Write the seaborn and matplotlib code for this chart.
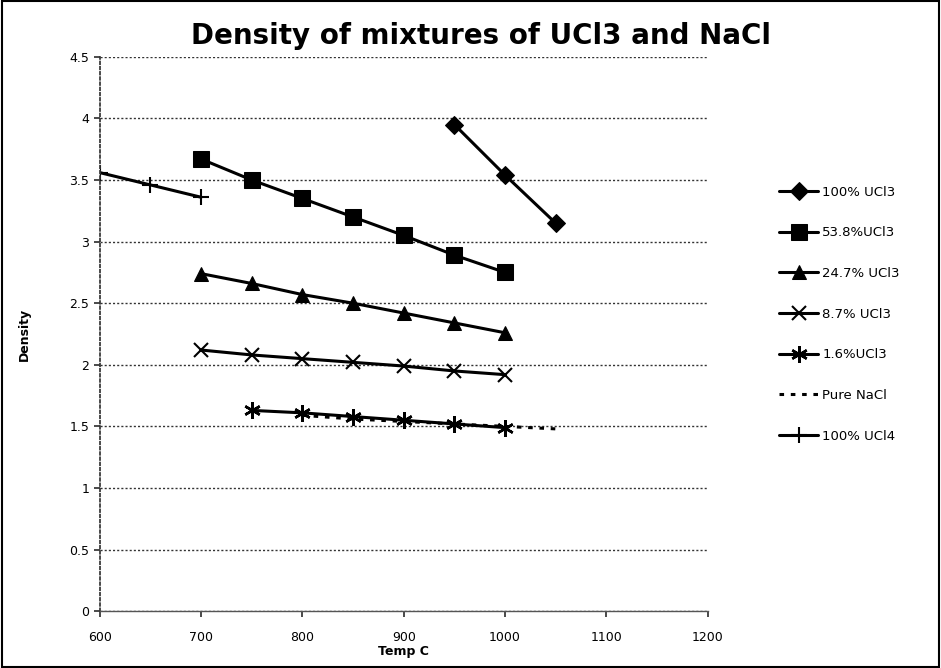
import matplotlib
matplotlib.use("Agg")
import matplotlib.pyplot as plt
import seaborn as sns
from matplotlib.patches import Rectangle

# data
x_ucl3_100 = [950, 1000, 1050]
y_ucl3_100 = [3.95, 3.54, 3.15]

x_ucl3_538 = [700, 750, 800, 850, 900, 950, 1000]
y_ucl3_538 = [3.67, 3.50, 3.35, 3.20, 3.05, 2.89, 2.75]

x_ucl3_247 = [700, 750, 800, 850, 900, 950, 1000]
y_ucl3_247 = [2.74, 2.66, 2.57, 2.50, 2.42, 2.34, 2.26]

x_ucl3_87 = [700, 750, 800, 850, 900, 950, 1000]
y_ucl3_87 = [2.12, 2.08, 2.05, 2.02, 1.99, 1.95, 1.92]

x_ucl3_16 = [750, 800, 850, 900, 950, 1000]
y_ucl3_16 = [1.63, 1.61, 1.58, 1.55, 1.52, 1.49]

x_nacl = [800, 850, 900, 950, 1000, 1050]
y_nacl = [1.59, 1.56, 1.54, 1.52, 1.50, 1.48]

x_ucl4 = [600, 650, 700]
y_ucl4 = [3.56, 3.46, 3.36]

labels = ["100% UCl3", "53.8%UCl3", "24.7% UCl3", "8.7% UCl3",
          "1.6%UCl3", "Pure NaCl", "100% UCl4"]

sns.set_theme(style="white")
plt.rcParams['font.family'] = ['DejaVu Sans']
plt.rcParams['text.color'] = 'black'

fig = plt.figure(figsize=(9.41, 6.68), dpi=100)
ax = fig.add_axes([0.106, 0.085, 0.646, 0.83])

series = [
    (x_ucl3_100, y_ucl3_100, dict(marker="D", markersize=9, linestyle="-")),
    (x_ucl3_538, y_ucl3_538, dict(marker="s", markersize=12, linestyle="-")),
    (x_ucl3_247, y_ucl3_247, dict(marker="^", markersize=10, linestyle="-")),
    (x_ucl3_87, y_ucl3_87, dict(marker="x", markersize=10, markeredgewidth=1.5, linestyle="-")),
    (x_ucl3_16, y_ucl3_16, dict(marker=(6, 2, 0), markersize=12, markeredgewidth=1.8, linestyle="-")),
    (x_nacl, y_nacl, dict(marker="", linestyle=(0, (1.5, 2.2)))),
    (x_ucl4, y_ucl4, dict(marker="+", markersize=12, markeredgewidth=1.5, linestyle="-")),
]

for (xs, ys, kw), lab in zip(series, labels):
    sns.lineplot(x=xs, y=ys, ax=ax, color="black", linewidth=2.2,
                 label=lab, markeredgecolor="black", **kw)

ax.set_xlim(600, 1200)
ax.set_ylim(0, 4.5)
ax.set_xticks(range(600, 1201, 100))
ax.set_yticks([0, 0.5, 1, 1.5, 2, 2.5, 3, 3.5, 4, 4.5])
ax.set_yticklabels(["0", "0.5", "1", "1.5", "2", "2.5", "3", "3.5", "4", "4.5"])
ax.yaxis.grid(True, color="#333333", linestyle=(0, (1.5, 1.5)), linewidth=1)
ax.xaxis.grid(False)
ax.tick_params(axis="both", labelsize=9, colors="#333333", labelcolor="black",
               length=4, direction="out", left=True, bottom=True)
ax.tick_params(axis="x", pad=10)

for side in ["top", "right"]:
    ax.spines[side].set_visible(False)
ax.spines["left"].set_linestyle((0, (1.5, 1.5)))
ax.spines["left"].set_color("#333333")
ax.spines["bottom"].set_color("#555555")
ax.spines["bottom"].set_linewidth(1)

ax.set_xlabel("Temp C", fontsize=9, fontweight="bold", labelpad=1, color="black")
ax.set_ylabel("Density", fontsize=9, fontweight="bold", labelpad=28, color="black")
fig.suptitle("Density of mixtures of UCl3 and NaCl", fontsize=20, fontweight="bold",
             x=0.511, y=0.967, va="top", color="black")

ax.legend(loc="upper left", bbox_to_anchor=(0.815, 0.74), bbox_transform=fig.transFigure,
          frameon=False, fontsize=9.5, labelspacing=2.1, handlelength=3.0,
          handletextpad=0.3, labelcolor="black")

fig.add_artist(Rectangle((0.002, 0.002), 0.996, 0.996, transform=fig.transFigure,
                         fill=False, edgecolor="black", linewidth=1.5))

fig.savefig("out.png", dpi=100)
